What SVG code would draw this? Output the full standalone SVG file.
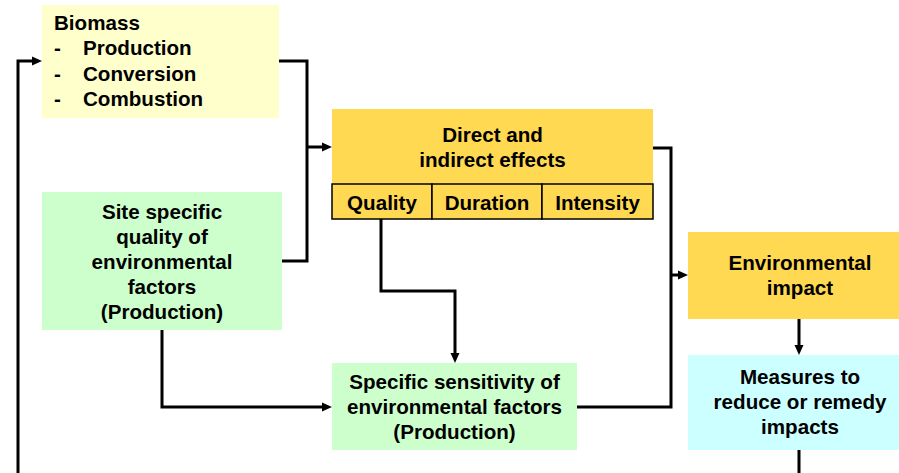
<svg xmlns="http://www.w3.org/2000/svg" width="899" height="473" viewBox="0 0 899 473">
<style>
text{font-family:"Liberation Sans",Arial,sans-serif;font-weight:bold;font-size:20.6px;fill:#000}
.c{text-anchor:middle}
.conn{fill:none;stroke:#000;stroke-width:3}
.cell{fill:#FFD952;stroke:#000;stroke-width:1.5}
</style>
<defs>
<marker id="arr" viewBox="0 0 10 10" refX="4" refY="5" markerWidth="10" markerHeight="10" markerUnits="userSpaceOnUse" orient="auto">
<path d="M0,0.5 L10,5 L0,9.5 z" fill="#000"/>
</marker>
</defs>
<rect width="899" height="473" fill="#fff"/>
<g id="biomass">
<rect x="42" y="5" width="237" height="113" fill="#FFFFCC"/>
<text x="54" y="30">Biomass</text>
<text x="54" y="55">-</text><text x="83" y="55">Production</text>
<text x="54" y="81">-</text><text x="83" y="81">Conversion</text>
<text x="54" y="106">-</text><text x="83" y="106">Combustion</text>
</g>
<g id="site">
<rect x="42" y="192" width="240" height="138" fill="#CCFFCC"/>
<text class="c" x="162" y="219">Site specific</text>
<text class="c" x="162" y="244">quality of</text>
<text class="c" x="162" y="269">environmental</text>
<text class="c" x="162" y="294">factors</text>
<text class="c" x="162" y="319">(Production)</text>
</g>
<g id="effects">
<rect x="332" y="109" width="321" height="75" fill="#FFD952"/>
<text class="c" x="492.5" y="142">Direct and</text>
<text class="c" x="492.5" y="167">indirect effects</text>
<rect class="cell" x="332" y="184" width="100" height="35"/>
<rect class="cell" x="432" y="184" width="110" height="35"/>
<rect class="cell" x="542" y="184" width="111" height="35"/>
<text class="c" x="382" y="210">Quality</text>
<text class="c" x="487" y="210">Duration</text>
<text class="c" x="597.5" y="210">Intensity</text>
</g>
<g id="sensitivity">
<rect x="332" y="363" width="245" height="87" fill="#CCFFCC"/>
<text class="c" x="454.5" y="389">Specific sensitivity of</text>
<text class="c" x="454.5" y="414">environmental factors</text>
<text class="c" x="454.5" y="439">(Production)</text>
</g>
<g id="impact">
<rect x="688" y="232" width="211" height="87" fill="#FFD952"/>
<text class="c" x="800" y="270">Environmental</text>
<text class="c" x="800" y="295">impact</text>
</g>
<g id="measures">
<rect x="688" y="355" width="211" height="95" fill="#CCFFFF"/>
<text class="c" x="800" y="384">Measures to</text>
<text class="c" x="800" y="409">reduce or remedy</text>
<text class="c" x="800" y="434">impacts</text>
</g>
<g id="connectors">
<path class="conn" d="M279,61 H307 V261 H282"/>
<path class="conn" d="M307,147 H326" marker-end="url(#arr)"/>
<path class="conn" d="M653,148 H671 V407 H577"/>
<path class="conn" d="M671,275 H682" marker-end="url(#arr)"/>
<path class="conn" d="M381,219 V291 H455 V357" marker-end="url(#arr)"/>
<path class="conn" d="M162,330 V407 H326" marker-end="url(#arr)"/>
<path class="conn" d="M799,319 V349" marker-end="url(#arr)"/>
<path class="conn" d="M799,450 V490 H18 V61 H36" marker-end="url(#arr)"/>
</g>
</svg>
